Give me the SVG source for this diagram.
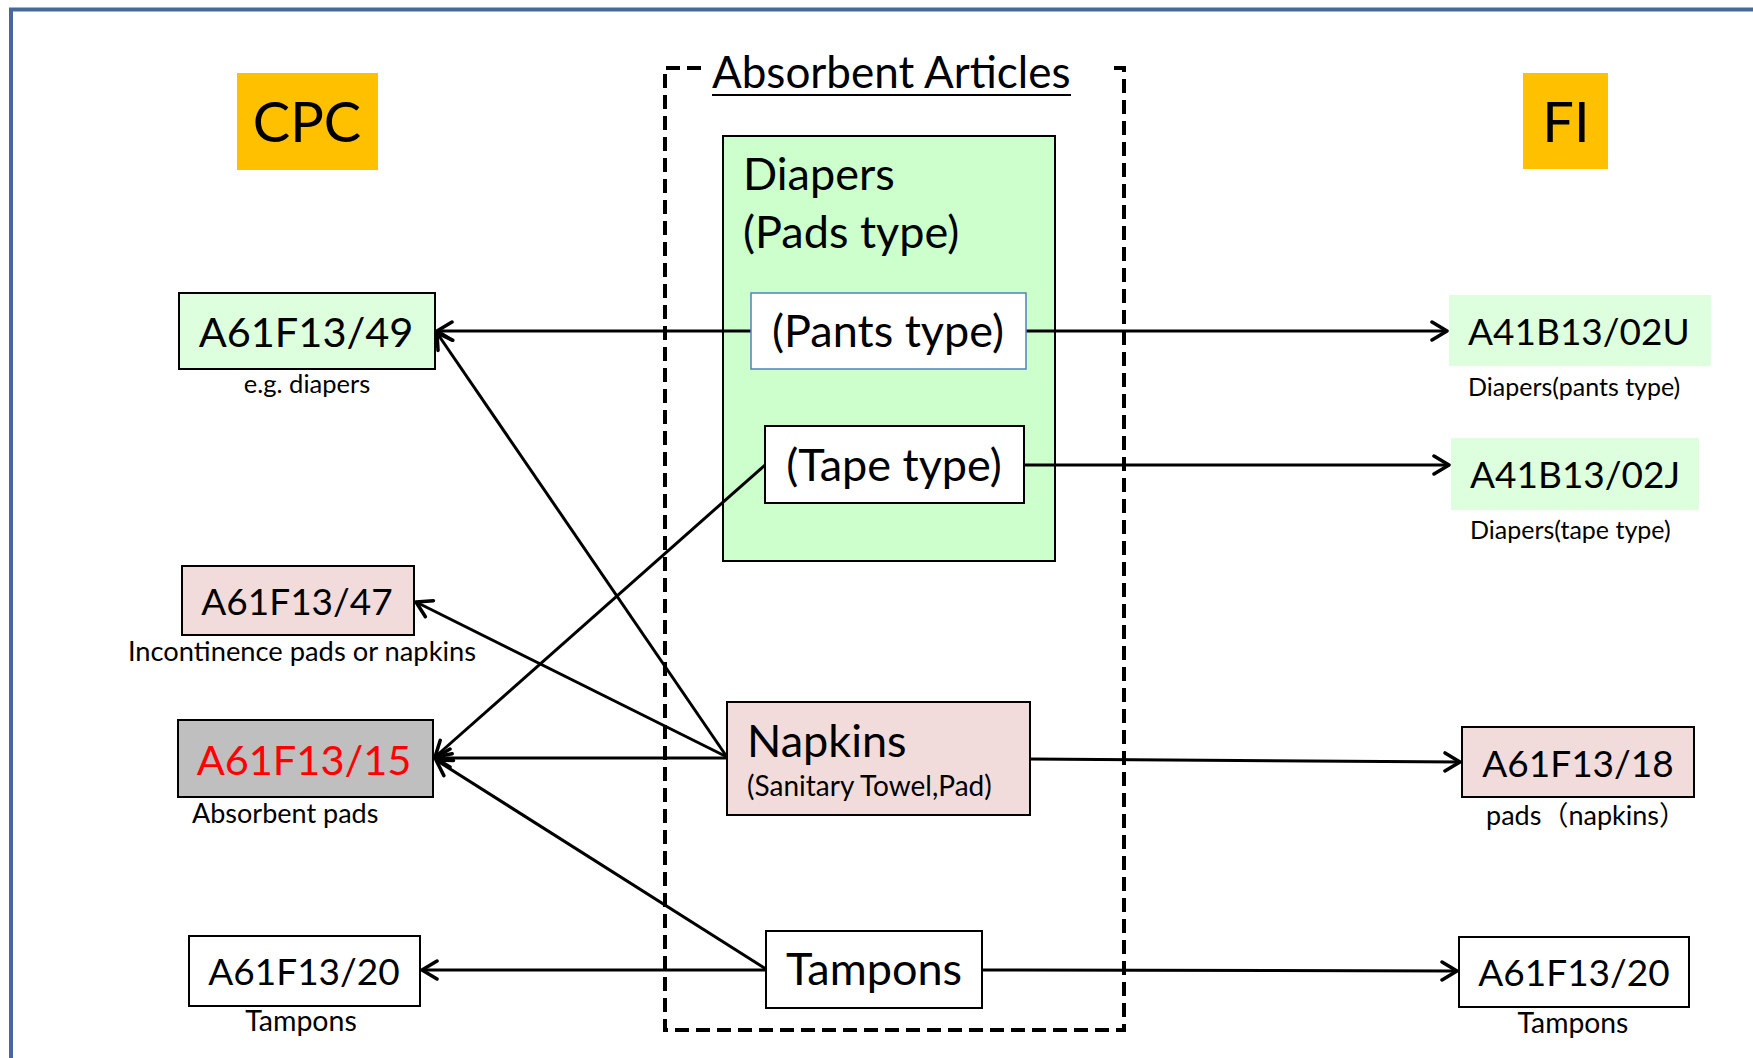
<svg xmlns="http://www.w3.org/2000/svg" width="1753" height="1058" viewBox="0 0 1753 1058">
<style>
  text { font-family: Lato, "Liberation Sans", sans-serif; fill: #000; }
  .code { font-size: 37px; text-anchor: middle; }
  .codeXL { font-size: 41.5px; text-anchor: middle; }
  .codeL { font-size: 37px; }
  .subL { font-size: 25px; }
  .big { font-size: 45px; }
  .box { stroke: #000; stroke-width: 2; }
  .conn { stroke: #000; stroke-width: 3; fill: none; }
  .dash { stroke: #000; stroke-width: 4; fill: none; stroke-dasharray: 14 7; }
</style>
<defs>
  <marker id="arr" markerUnits="userSpaceOnUse" markerWidth="22" markerHeight="22" viewBox="0 0 22 22" refX="18" refY="11" orient="auto">
    <path d="M3,2 L18,11 L3,20" fill="none" stroke="#000" stroke-width="3.5" stroke-linecap="round" stroke-linejoin="round"/>
  </marker>
</defs>
<rect x="0" y="0" width="1753" height="1058" fill="#fff"/>
<rect x="11" y="9.5" width="1800" height="1100" fill="none" stroke="#46689a" stroke-width="4"/>

<g id="cpc-header">
  <rect x="237" y="73" width="141" height="97" fill="#ffc000"/>
  <text x="307" y="142" font-size="56" text-anchor="middle">CPC</text>
</g>
<g id="fi-header">
  <rect x="1523" y="73" width="85" height="96" fill="#ffc000"/>
  <text x="1566" y="142" font-size="56" text-anchor="middle">FI</text>
</g>

<g id="absorbent-articles">
  <path class="dash" d="M701,68 L665,68 L665,1030 L1124,1030 L1124,68 L1108,68"/>
  <text x="712" y="88" font-size="44">Absorbent Articles</text>
  <line x1="712" y1="95" x2="1071" y2="95" stroke="#000" stroke-width="2"/>
</g>

<g id="diapers">
  <rect class="box" x="723" y="136" width="332" height="425" fill="#ccffcc" stroke-width="1.5"/>
  <text class="big" x="743" y="190">Diapers</text>
  <text class="big" x="743" y="248">(Pads type)</text>
</g>

<g id="connectors">
  <line class="conn" x1="751" y1="331" x2="437" y2="331" marker-end="url(#arr)"/>
  <line class="conn" x1="1026" y1="331" x2="1447" y2="331" marker-end="url(#arr)"/>
  <line class="conn" x1="1024" y1="465" x2="1449" y2="465" marker-end="url(#arr)"/>
  <line class="conn" x1="765" y1="465" x2="435" y2="757" marker-end="url(#arr)"/>
  <line class="conn" x1="727" y1="757" x2="437" y2="333" marker-end="url(#arr)"/>
  <line class="conn" x1="727" y1="757" x2="416" y2="602" marker-end="url(#arr)"/>
  <line class="conn" x1="727" y1="758" x2="435" y2="758" marker-end="url(#arr)"/>
  <line class="conn" x1="1030" y1="759" x2="1460" y2="762" marker-end="url(#arr)"/>
  <line class="conn" x1="766" y1="969" x2="436" y2="760" marker-end="url(#arr)"/>
  <line class="conn" x1="766" y1="970" x2="422" y2="970" marker-end="url(#arr)"/>
  <line class="conn" x1="982" y1="970" x2="1457" y2="971" marker-end="url(#arr)"/>
</g>

<g id="pants-type">
  <rect x="751" y="293" width="275" height="76" fill="#fff" stroke="#4f81bd" stroke-width="1.5"/>
  <text class="big" x="888" y="347" text-anchor="middle">(Pants type)</text>
</g>
<g id="tape-type">
  <rect class="box" x="765" y="426" width="259" height="77" fill="#fff"/>
  <text class="big" x="894" y="481" text-anchor="middle">(Tape type)</text>
</g>
<g id="napkins">
  <rect class="box" x="727" y="702" width="303" height="113" fill="#f2dcdb"/>
  <text class="big" x="747" y="757">Napkins</text>
  <text x="747" y="796" font-size="28">(Sanitary Towel,Pad)</text>
</g>
<g id="tampons">
  <rect class="box" x="766" y="931" width="216" height="77" fill="#fff"/>
  <text class="big" x="874" y="985" text-anchor="middle">Tampons</text>
</g>

<g id="a61f13-49">
  <rect class="box" x="179" y="293" width="256" height="76" fill="#ddffdd"/>
  <text class="codeXL" x="306" y="347">A61F13/49</text>
  <text x="307" y="393" font-size="25.5" text-anchor="middle">e.g. diapers</text>
</g>
<g id="a61f13-47">
  <rect class="box" x="182" y="566" width="232" height="69" fill="#f2dcdb"/>
  <text class="code" x="297" y="615">A61F13/47</text>
  <text x="302" y="661" font-size="27.3" text-anchor="middle">Incontinence pads or napkins</text>
</g>
<g id="a61f13-15">
  <rect class="box" x="178" y="720" width="255" height="77" fill="#bfbfbf"/>
  <text class="codeXL" x="304" y="775" style="fill:#ff0000">A61F13/15</text>
  <text x="192" y="823" font-size="27">Absorbent pads</text>
</g>
<g id="a61f13-20-cpc">
  <rect class="box" x="189" y="936" width="231" height="70" fill="#fff"/>
  <text class="code" x="304" y="985">A61F13/20</text>
  <text x="301" y="1031" font-size="28.5" text-anchor="middle">Tampons</text>
</g>

<g id="a41b13-02u">
  <rect x="1449" y="295" width="262" height="71" fill="#ddffdd"/>
  <text class="codeL" x="1468" y="345">A41B13/02U</text>
  <text class="subL" x="1468" y="396">Diapers(pants type)</text>
</g>
<g id="a41b13-02j">
  <rect x="1451" y="438" width="248" height="72" fill="#ddffdd"/>
  <text class="codeL" x="1470" y="488">A41B13/02J</text>
  <text class="subL" x="1470" y="539">Diapers(tape type)</text>
</g>
<g id="a61f13-18">
  <rect class="box" x="1462" y="727" width="232" height="70" fill="#f2dcdb"/>
  <text class="code" x="1578" y="777">A61F13/18</text>
  <text x="1586" y="825" font-size="27" text-anchor="middle" style="font-family: Lato, 'Noto Sans CJK JP', sans-serif">pads（napkins）</text>
</g>
<g id="a61f13-20-fi">
  <rect class="box" x="1459" y="937" width="230" height="70" fill="#fff"/>
  <text class="code" x="1574" y="986">A61F13/20</text>
  <text x="1573" y="1033" font-size="28.3" text-anchor="middle">Tampons</text>
</g>
</svg>
